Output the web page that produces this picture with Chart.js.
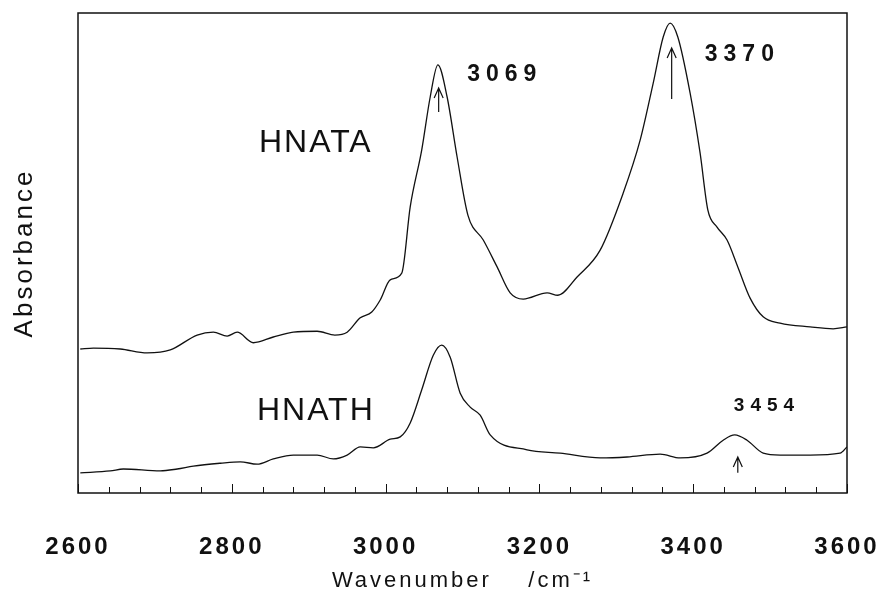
<!DOCTYPE html>
<html>
<head>
<meta charset="utf-8">
<script src="https://cdn.jsdelivr.net/npm/chart.js"></script>
<style>
  html, body { margin: 0; padding: 0; background: #fff; }
</style>
</head>
<body>
<canvas id="c" width="882" height="596"></canvas>
<script>
// HNATA spectrum (upper trace), wavenumber / cm-1 and absorbance (arb. units)
const hnataX = [2603, 2620, 2655, 2690, 2720, 2755, 2776, 2794, 2807, 2828, 2854, 2880, 2911, 2934, 2950, 2967, 2982, 2993, 3006, 3021, 3032, 3047, 3058, 3068, 3080, 3093, 3107, 3127, 3145, 3162, 3179, 3210, 3224, 3249, 3279, 3309, 3331, 3348, 3361, 3370, 3380, 3396, 3409, 3419, 3431, 3444, 3458, 3474, 3491, 3513, 3552, 3582, 3600];
const hnataY = [30.0, 30.2, 30.0, 29.2, 29.8, 32.9, 33.5, 32.7, 33.5, 31.3, 32.5, 33.5, 33.7, 32.9, 33.5, 36.5, 37.7, 40.2, 44.4, 45.8, 59.6, 71.5, 82.5, 89.2, 82.5, 70.0, 57.9, 52.7, 47.1, 41.7, 40.4, 41.7, 41.2, 45.0, 50.6, 62.5, 73.5, 85.4, 95.0, 97.9, 95.0, 83.3, 70.8, 59.0, 55.4, 52.7, 47.1, 40.6, 36.7, 35.4, 34.6, 34.2, 34.6];

// HNATH spectrum (lower trace)
const hnathX = [2603, 2642, 2659, 2707, 2729, 2750, 2785, 2811, 2833, 2854, 2880, 2911, 2932, 2950, 2967, 2984, 3006, 3019, 3032, 3047, 3062, 3073, 3084, 3097, 3110, 3123, 3136, 3184, 3227, 3279, 3314, 3357, 3383, 3418, 3439, 3454, 3470, 3491, 3513, 3552, 3591, 3600];
const hnathY = [4.2, 4.6, 5.0, 4.6, 5.0, 5.6, 6.2, 6.5, 6.0, 7.1, 7.9, 7.9, 7.1, 7.9, 9.6, 9.4, 11.2, 11.7, 14.6, 21.5, 28.7, 30.8, 28.3, 20.8, 17.9, 16.2, 12.1, 9.0, 8.3, 7.3, 7.5, 8.1, 7.3, 8.3, 11.0, 12.1, 11.0, 8.3, 7.9, 7.9, 8.3, 9.6];

const xTickLabels = [2600, 2800, 3000, 3200, 3400, 3600];

// peak annotations
const peakNames = ['3069', '3370', '3454'];
const peakArrowX = [3069, 3372, 3458];
const peakArrowTip = [84.4, 92.7, 7.5];
const peakArrowBase = [79.4, 82.1, 4.2];
const peakLabelX = [3151, 3460, 3492];
const peakLabelY = [87.1, 91.3, 18.1];
const peakLabelSize = [23, 23, 19];

const seriesNames = ['HNATA', 'HNATH'];
const seriesLabelX = [2908, 2908];
const seriesLabelY = [72.8, 17.1];

const FONT = '"Liberation Sans", Arial, sans-serif';
const INK = '#111';

const toPoints = (xs, ys) => xs.map((x, i) => ({ x, y: ys[i] }));

const decorations = {
  id: 'decorations',
  beforeDraw(chart) {
    chart.ctx.letterSpacing = '3px';
  },
  afterDraw(chart) {
    const { ctx, chartArea: a, scales: { x, y } } = chart;
    ctx.save();
    ctx.letterSpacing = '0px';
    ctx.strokeStyle = INK;
    ctx.lineWidth = 1.5;
    ctx.strokeRect(a.left, a.top, a.right - a.left, a.bottom - a.top);

    // inward ticks on the bottom axis
    ctx.lineWidth = 1;
    x.ticks.forEach((t) => {
      const px = Math.round(x.getPixelForValue(t.value)) + 0.5;
      const len = xTickLabels.includes(t.value) ? 9 : 6;
      ctx.beginPath();
      ctx.moveTo(px, a.bottom);
      ctx.lineTo(px, a.bottom - len);
      ctx.stroke();
    });

    // arrows under the peaks
    ctx.lineWidth = 1.2;
    peakArrowX.forEach((wn, i) => {
      const px = x.getPixelForValue(wn);
      const tip = y.getPixelForValue(peakArrowTip[i]);
      const base = y.getPixelForValue(peakArrowBase[i]);
      ctx.beginPath();
      ctx.moveTo(px, base);
      ctx.lineTo(px, tip);
      ctx.moveTo(px - 4.5, tip + 10);
      ctx.lineTo(px, tip);
      ctx.lineTo(px + 4.5, tip + 10);
      ctx.stroke();
    });

    ctx.fillStyle = INK;
    ctx.textAlign = 'center';
    ctx.textBaseline = 'middle';

    peakNames.forEach((name, i) => {
      ctx.font = 'bold ' + peakLabelSize[i] + 'px ' + FONT;
      ctx.letterSpacing = '6px';
      ctx.fillText(name, x.getPixelForValue(peakLabelX[i]) + 3, y.getPixelForValue(peakLabelY[i]));
    });

    seriesNames.forEach((name, i) => {
      ctx.font = '32px ' + FONT;
      ctx.letterSpacing = '2px';
      ctx.fillText(name, x.getPixelForValue(seriesLabelX[i]) + 1, y.getPixelForValue(seriesLabelY[i]));
    });
    ctx.restore();
  },
};

const lineStyle = {
  borderColor: INK,
  borderWidth: 1.3,
  pointRadius: 0,
  showLine: true,
  fill: false,
  cubicInterpolationMode: 'monotone',
};

new Chart(document.getElementById('c').getContext('2d'), {
  type: 'scatter',
  data: {
    datasets: [
      { label: 'HNATA', data: toPoints(hnataX, hnataY), ...lineStyle },
      { label: 'HNATH', data: toPoints(hnathX, hnathY), ...lineStyle },
    ],
  },
  options: {
    responsive: false,
    animation: false,
    devicePixelRatio: 1,
    layout: { padding: { top: 13, right: 35, left: 0, bottom: 0 } },
    plugins: {
      legend: { display: false },
      tooltip: { enabled: false },
    },
    scales: {
      x: {
        type: 'linear',
        min: 2600,
        max: 3600,
        grid: { display: false, drawTicks: false },
        border: { display: false },
        ticks: {
          stepSize: 40,
          autoSkip: false,
          maxRotation: 0,
          padding: 40,
          color: INK,
          font: { family: FONT, size: 24, weight: 'bold' },
          callback: (v) => (xTickLabels.includes(v) ? String(v) : ''),
        },
        title: {
          display: true,
          text: 'Wavenumber    /cm\u207B\u00B9',
          color: INK,
          font: { family: FONT, size: 22 },
          padding: { top: 0, bottom: 2 },
        },
        afterFit: (scale) => {
          scale.height = 103;
          scale.paddingLeft = 0;
          scale.paddingRight = 0;
        },
      },
      y: {
        min: 0,
        max: 100,
        grid: { display: false, drawTicks: false },
        border: { display: false },
        ticks: { display: false },
        title: {
          display: true,
          text: 'Absorbance',
          color: INK,
          font: { family: FONT, size: 26 },
          padding: { top: 9, bottom: 0 },
        },
        afterFit: (scale) => {
          scale.width = 78;
          scale.paddingTop = 0;
          scale.paddingBottom = 0;
        },
      },
    },
  },
  plugins: [decorations],
});
</script>
</body>
</html>
